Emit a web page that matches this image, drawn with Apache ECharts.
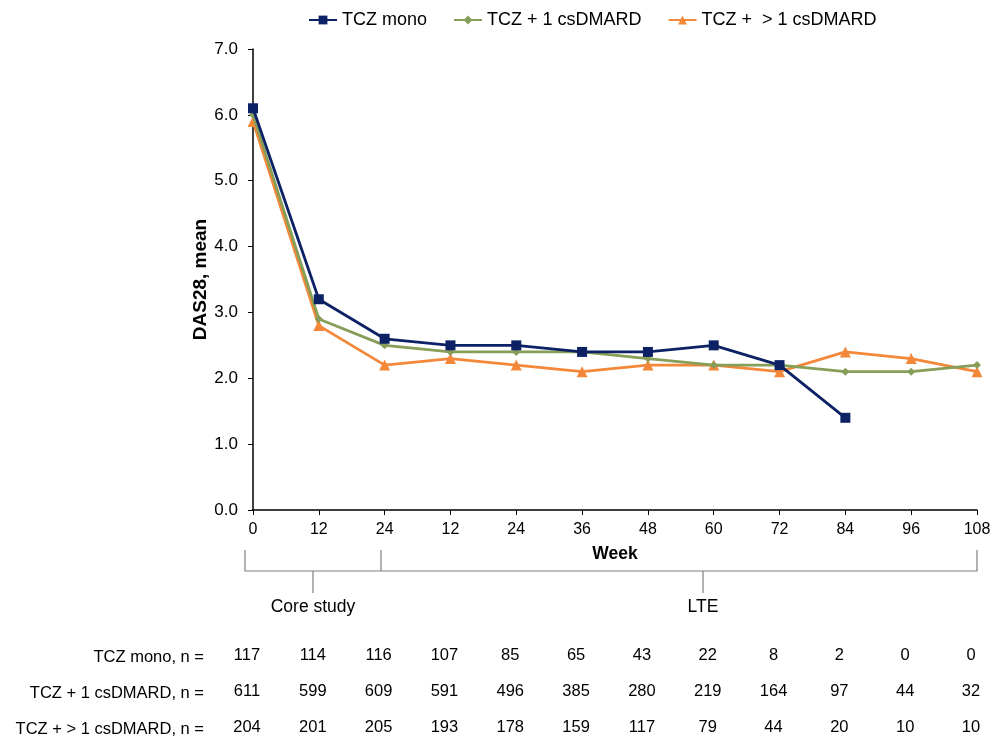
<!DOCTYPE html>
<html>
<head>
<meta charset="utf-8">
<script src="https://cdn.jsdelivr.net/npm/echarts@6/dist/echarts.min.js"></script>
<style>html,body{margin:0;padding:0;background:#fff}#c{width:1003px;height:741px}</style>
</head>
<body>
<div id="c"></div>
<script>
const weekLabels = ['0','12','24','12','24','36','48','60','72','84','96','108'];
const seriesNames = ['TCZ mono','TCZ + 1 csDMARD','TCZ +  > 1 csDMARD'];
const tczMono = [6.1, 3.2, 2.6, 2.5, 2.5, 2.4, 2.4, 2.5, 2.2, 1.4, null, null];
const tczOne = [6.0, 2.9, 2.5, 2.4, 2.4, 2.4, 2.3, 2.2, 2.2, 2.1, 2.1, 2.2];
const tczMore = [5.9, 2.8, 2.2, 2.3, 2.2, 2.1, 2.2, 2.2, 2.1, 2.4, 2.3, 2.1];
const rowLabels = ['TCZ mono, n =', 'TCZ + 1 csDMARD, n =', 'TCZ + > 1 csDMARD, n ='];
const nMono = [117, 114, 116, 107, 85, 65, 43, 22, 8, 2, 0, 0];
const nOne = [611, 599, 609, 591, 496, 385, 280, 219, 164, 97, 44, 32];
const nMore = [204, 201, 205, 193, 178, 159, 117, 79, 44, 20, 10, 10];
const yTicks = [0,1,2,3,4,5,6,7];

const colors = ['#0d2265', '#869e58', '#f3883a'];
const font = 'Liberation Sans, Arial, sans-serif';
const toPts = arr => arr.map((v, i) => [i, v]);

const nRows = [nMono, nOne, nMore];
const rowOffsets = [137, 173, 209];

const chart = echarts.init(document.getElementById('c'));
const xAxes = [{
  type: 'value', min: 0, max: weekLabels.length - 1, interval: 1,
  position: 'bottom',
  name: 'Week', nameLocation: 'middle', nameGap: 35, nameMoveOverlap: false,
  nameTextStyle: {fontFamily: font, fontSize: 17.5, fontWeight: 'bold', color: '#000'},
  axisLine: {show: true, onZero: false, lineStyle: {color: '#000', width: 1.5}},
  axisTick: {show: true, length: 5, lineStyle: {color: '#000'}},
  splitLine: {show: false},
  axisLabel: {fontFamily: font, fontSize: 16, color: '#000', margin: 12,
    formatter: v => weekLabels[v] !== undefined ? weekLabels[v] : ''}
}];
nRows.forEach((row, r) => {
  xAxes.push({
    type: 'value', min: 0, max: weekLabels.length - 1, interval: 1,
    position: 'bottom', offset: rowOffsets[r], gridIndex: 0,
    axisLine: {show: false}, axisTick: {show: false}, splitLine: {show: false},
    axisLabel: {fontFamily: font, fontSize: 16.5, color: '#000', margin: 0,
      padding: [0, 12, 0, 0],
      formatter: v => row[v] !== undefined ? String(row[v]) : ''}
  });
});

const symbols = ['rect', 'diamond', 'triangle'];
const sizes = [10, 8, 11];
const data = [tczMono, tczOne, tczMore];

chart.setOption({
  animation: false,
  color: colors,
  legend: {
    top: 6, left: 303, itemWidth: 28, itemHeight: 11, itemGap: 26,
    textStyle: {fontFamily: font, fontSize: 18, color: '#000'},
    data: seriesNames
  },
  grid: {left: 253, right: 26, top: 49, bottom: 231, containLabel: false},
  xAxis: xAxes,
  yAxis: {
    type: 'value', min: yTicks[0], max: yTicks[yTicks.length - 1], interval: 1,
    name: 'DAS28, mean', nameLocation: 'middle', nameGap: 43, nameMoveOverlap: false,
    nameTextStyle: {fontFamily: font, fontSize: 19, fontWeight: 'bold', color: '#000'},
    axisLine: {show: true, lineStyle: {color: '#000', width: 1.5}},
    axisTick: {show: true, length: 5, lineStyle: {color: '#000'}},
    splitLine: {show: false},
    axisLabel: {fontFamily: font, fontSize: 17, color: '#000', margin: 15,
      formatter: v => v.toFixed(1)}
  },
  series: data.map((d, i) => ({
    name: seriesNames[i], type: 'line', data: toPts(d),
    symbol: symbols[i], symbolSize: sizes[i], showAllSymbol: true,
    lineStyle: {width: 2.8, color: colors[i]},
    itemStyle: {color: colors[i]},
    z: 3 - i
  })),
  graphic: [
    {type: 'polyline', shape: {points: [[245, 550], [245, 571], [977, 571], [977, 550]]},
      style: {stroke: '#7f7f7f', lineWidth: 1.2, fill: null}},
    {type: 'line', shape: {x1: 381, y1: 550, x2: 381, y2: 571}, style: {stroke: '#7f7f7f', lineWidth: 1.2}},
    {type: 'line', shape: {x1: 313, y1: 571, x2: 313, y2: 593}, style: {stroke: '#7f7f7f', lineWidth: 1.2}},
    {type: 'line', shape: {x1: 703, y1: 571, x2: 703, y2: 593}, style: {stroke: '#7f7f7f', lineWidth: 1.2}},
    {type: 'text', x: 313, y: 607, style: {text: 'Core study', font: '17.5px ' + font, fill: '#000', textAlign: 'center', textVerticalAlign: 'middle'}},
    {type: 'text', x: 703, y: 607, style: {text: 'LTE', font: '17.5px ' + font, fill: '#000', textAlign: 'center', textVerticalAlign: 'middle'}}
  ].concat(rowLabels.map((t, r) => ({
    type: 'text', x: 204, y: 511 + rowOffsets[r] + 9,
    style: {text: t, font: '16.5px ' + font, fill: '#000', textAlign: 'right', textVerticalAlign: 'middle'}
  })))
});
</script>
</body>
</html>
